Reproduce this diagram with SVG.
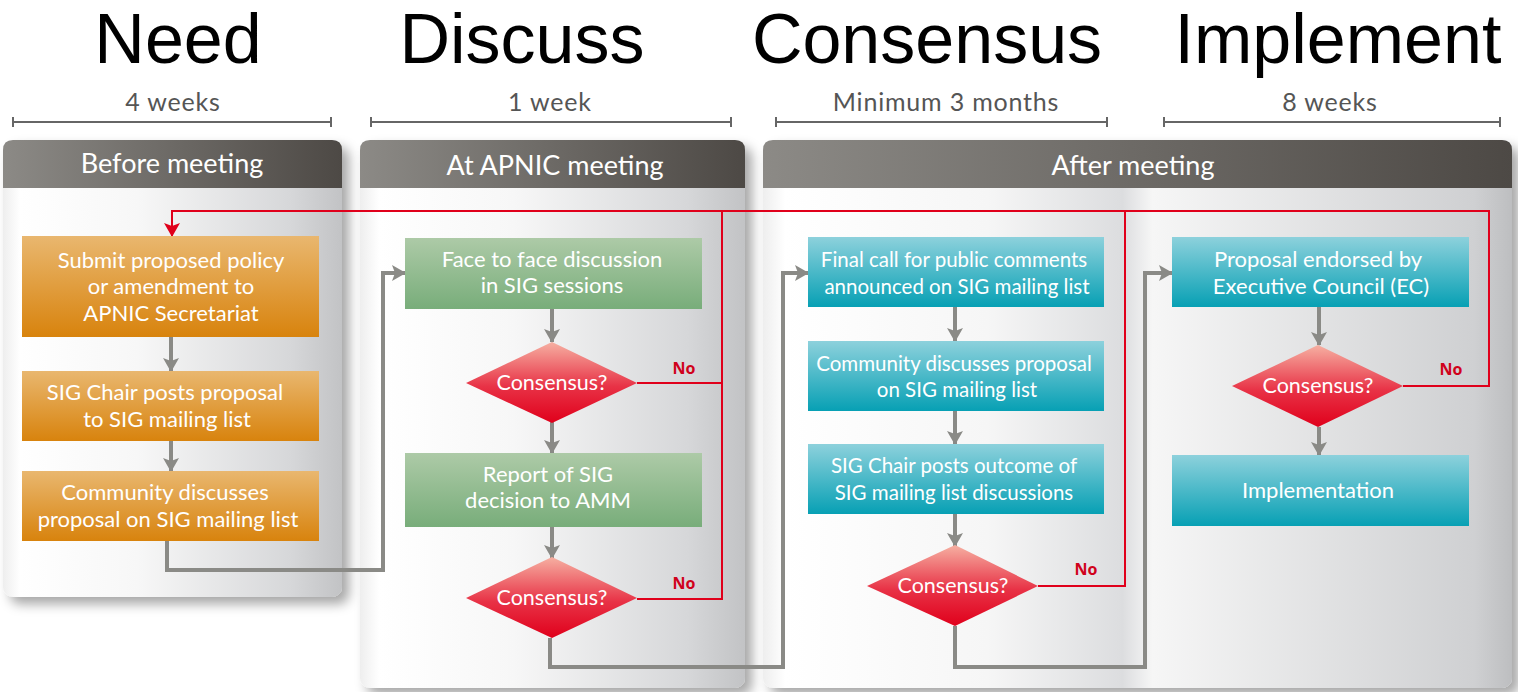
<svg xmlns="http://www.w3.org/2000/svg" width="1518" height="692" viewBox="0 0 1518 692">
<style>
.title{font-family:"Liberation Sans",Arial,sans-serif;font-size:70px;fill:#000;text-anchor:middle}
.dur{font-family:Lato,"Open Sans",sans-serif;font-size:25px;letter-spacing:0.8px;fill:#555;text-anchor:middle}
.hdr{font-family:Lato,"Open Sans",sans-serif;font-size:27px;fill:#fff;text-anchor:middle}
.bt{font-family:Lato,"Open Sans",sans-serif;font-size:22px;fill:#fff;text-anchor:middle}
.ct{font-family:Lato,"Open Sans",sans-serif;font-size:20.5px;fill:#fff;text-anchor:middle}
.dt{font-family:Lato,"Open Sans",sans-serif;font-size:21.5px;fill:#fff;text-anchor:middle}
.no{font-family:"Open Sans","Liberation Sans",sans-serif;font-size:16px;font-weight:bold;fill:#d0021b;text-anchor:middle}
.bar{stroke:#666;stroke-width:2;fill:none}
.gc{stroke:#8a8a86;stroke-width:4;fill:none}
.rc{stroke:#e0001b;stroke-width:2;fill:none}
.ob{fill:url(#gOr)}
.gb{fill:url(#gGr)}
.cb{fill:url(#gCy)}
.dm{fill:url(#gRd)}
</style>
<defs>
<linearGradient id="gOr" x1="0" y1="0" x2="0" y2="1"><stop offset="0" stop-color="#e9b76f"/><stop offset="1" stop-color="#d8830d"/></linearGradient>
<linearGradient id="gGr" x1="0" y1="0" x2="0" y2="1"><stop offset="0" stop-color="#adcaa7"/><stop offset="1" stop-color="#78ad7a"/></linearGradient>
<linearGradient id="gCy" x1="0" y1="0" x2="0" y2="1"><stop offset="0" stop-color="#8dd1dc"/><stop offset="1" stop-color="#07a0b4"/></linearGradient>
<linearGradient id="gRd" x1="0" y1="0" x2="0" y2="1"><stop offset="0" stop-color="#f6b0a2"/><stop offset="0.55" stop-color="#e83246"/><stop offset="1" stop-color="#e0001b"/></linearGradient>
<linearGradient id="gHd" x1="0" y1="0" x2="1" y2="0"><stop offset="0" stop-color="#8c8a86"/><stop offset="1" stop-color="#4d4945"/></linearGradient>
<linearGradient id="gBody" x1="0" y1="0" x2="1" y2="0"><stop offset="0" stop-color="#eeeeee"/><stop offset="0.05" stop-color="#ffffff"/><stop offset="0.4" stop-color="#f7f7f7"/><stop offset="0.85" stop-color="#d6d7d9"/><stop offset="1" stop-color="#c2c3c5"/></linearGradient>
<linearGradient id="gBody3" x1="0" y1="0" x2="1" y2="0"><stop offset="0" stop-color="#eeeeee"/><stop offset="0.03" stop-color="#ffffff"/><stop offset="0.3" stop-color="#f6f6f6"/><stop offset="0.48" stop-color="#dcdddf"/><stop offset="0.52" stop-color="#f6f6f6"/><stop offset="0.95" stop-color="#cfd0d2"/><stop offset="1" stop-color="#bdbec0"/></linearGradient>
<filter id="sh" x="-10%" y="-10%" width="125%" height="125%"><feDropShadow dx="7" dy="7" stdDeviation="6" flood-color="#000" flood-opacity="0.35"/></filter>
<marker id="ag" markerUnits="userSpaceOnUse" viewBox="0 0 14 16" markerWidth="14" markerHeight="16" refX="13" refY="8" orient="auto"><path d="M0,0 L14,8 L0,16 L3,8 Z" fill="#8a8a86"/></marker>
<marker id="ar" markerUnits="userSpaceOnUse" viewBox="0 0 14 16" markerWidth="14" markerHeight="16" refX="13" refY="8" orient="auto"><path d="M0,0 L14,8 L0,16 L3,8 Z" fill="#e0001b"/></marker>
</defs>

<g id="titles">
<text class="title" x="178" y="63">Need</text>
<text class="title" x="522" y="63">Discuss</text>
<text class="title" x="927" y="63">Consensus</text>
<text class="title" x="1338" y="63">Implement</text>
</g>

<g id="durations">
<text class="dur" x="173" y="111">4 weeks</text>
<path class="bar" d="M13,122 H331 M13,117 V127 M331,117 V127"/>
<text class="dur" x="550" y="111">1 week</text>
<path class="bar" d="M371,122 H731 M371,117 V127 M731,117 V127"/>
<text class="dur" x="946" y="111">Minimum 3 months</text>
<path class="bar" d="M776,122 H1107 M776,117 V127 M1107,117 V127"/>
<text class="dur" x="1330" y="111">8 weeks</text>
<path class="bar" d="M1164,122 H1500 M1164,117 V127 M1500,117 V127"/>
</g>

<g id="panel-before">
<rect x="3" y="140" width="339" height="457" rx="10" fill="url(#gBody)" filter="url(#sh)"/>
<path d="M3,188 V150 Q3,140 13,140 H332 Q342,140 342,150 V188 Z" fill="url(#gHd)"/>
<text class="hdr" x="172" y="173">Before meeting</text>
</g>
<g id="panel-at">
<rect x="360" y="140" width="385" height="548" rx="10" fill="url(#gBody)" filter="url(#sh)"/>
<path d="M360,188 V150 Q360,140 370,140 H735 Q745,140 745,150 V188 Z" fill="url(#gHd)"/>
<text class="hdr" x="555" y="175">At APNIC meeting</text>
</g>
<g id="panel-after">
<rect x="763" y="140" width="749" height="548" rx="10" fill="url(#gBody3)" filter="url(#sh)"/>
<path d="M763,188 V150 Q763,140 773,140 H1502 Q1512,140 1512,150 V188 Z" fill="url(#gHd)"/>
<text class="hdr" x="1133" y="175">After meeting</text>
</g>

<g id="connectors">
<path class="gc" d="M171,337 V371" marker-end="url(#ag)"/>
<path class="gc" d="M171,441 V471" marker-end="url(#ag)"/>
<path class="gc" d="M167,541 V570 H383 V273 H405" marker-end="url(#ag)"/>
<path class="gc" d="M552,309 V342" marker-end="url(#ag)"/>
<path class="gc" d="M552,422 V453" marker-end="url(#ag)"/>
<path class="gc" d="M552,527 V558" marker-end="url(#ag)"/>
<path class="gc" d="M550,638 V667 H783 V273 H808" marker-end="url(#ag)"/>
<path class="gc" d="M955,307 V341" marker-end="url(#ag)"/>
<path class="gc" d="M955,411 V444" marker-end="url(#ag)"/>
<path class="gc" d="M955,514 V546" marker-end="url(#ag)"/>
<path class="gc" d="M955,626 V667 H1145 V273 H1172" marker-end="url(#ag)"/>
<path class="gc" d="M1319,307 V345" marker-end="url(#ag)"/>
<path class="gc" d="M1319,427 V455" marker-end="url(#ag)"/>
<path class="rc" d="M1403,386 H1489 V211 H172 V236" marker-end="url(#ar)"/>
<path class="rc" d="M637,383 H722 M637,599 H722 V211"/>
<path class="rc" d="M1038,586 H1125 V211"/>
<text class="no" x="684" y="374">No</text>
<text class="no" x="684" y="589">No</text>
<text class="no" x="1086" y="575">No</text>
<text class="no" x="1451" y="375">No</text>
</g>

<g id="n-submit"><rect class="ob" x="22" y="236" width="297" height="101"/>
<text class="bt" x="171" y="268">Submit proposed policy</text><text class="bt" x="171" y="294">or amendment to</text><text class="bt" x="171" y="321">APNIC Secretariat</text></g>
<g id="n-sigpost"><rect class="ob" x="22" y="371" width="297" height="70"/>
<text class="bt" x="165" y="400">SIG Chair posts proposal</text><text class="bt" x="167" y="427">to SIG mailing list</text></g>
<g id="n-community1"><rect class="ob" x="22" y="471" width="297" height="70"/>
<text class="bt" x="165" y="500">Community discusses</text><text class="bt" x="168" y="527">proposal on SIG mailing list</text></g>

<g id="n-face"><rect class="gb" x="405" y="238" width="297" height="71"/>
<text class="bt" x="552" y="267">Face to face discussion</text><text class="bt" x="552" y="293">in SIG sessions</text></g>
<g id="d-cons1"><path class="dm" d="M552,342 L637,383 L552,423 L466,383 Z"/><text class="dt" x="552" y="390">Consensus?</text></g>
<g id="n-report"><rect class="gb" x="405" y="453" width="297" height="74"/>
<text class="bt" x="548" y="482">Report of SIG</text><text class="bt" x="548" y="508">decision to AMM</text></g>
<g id="d-cons2"><path class="dm" d="M552,557 L637,598 L552,638 L466,598 Z"/><text class="dt" x="552" y="605">Consensus?</text></g>

<g id="n-final"><rect class="cb" x="808" y="237" width="296" height="70"/>
<text class="ct" x="954" y="267">Final call for public comments</text><text class="ct" x="957" y="294">announced on SIG mailing list</text></g>
<g id="n-community2"><rect class="cb" x="808" y="341" width="296" height="70"/>
<text class="ct" x="954" y="371">Community discusses proposal</text><text class="ct" x="957" y="397">on SIG mailing list</text></g>
<g id="n-outcome"><rect class="cb" x="808" y="444" width="296" height="70"/>
<text class="ct" x="954" y="473">SIG Chair posts outcome of</text><text class="ct" x="954" y="500">SIG mailing list discussions</text></g>
<g id="d-cons3"><path class="dm" d="M955,545 L1038,586 L955,626 L867,586 Z"/><text class="dt" x="953" y="593">Consensus?</text></g>

<g id="n-endorse"><rect class="cb" x="1172" y="237" width="297" height="70"/>
<text class="bt" x="1318" y="267">Proposal endorsed by</text><text class="bt" x="1321" y="294">Executive Council (EC)</text></g>
<g id="d-cons4"><path class="dm" d="M1318,345 L1403,386 L1318,427 L1232,386 Z"/><text class="dt" x="1318" y="393">Consensus?</text></g>
<g id="n-impl"><rect class="cb" x="1172" y="455" width="297" height="71"/>
<text class="bt" x="1318" y="498">Implementation</text></g>
</svg>
